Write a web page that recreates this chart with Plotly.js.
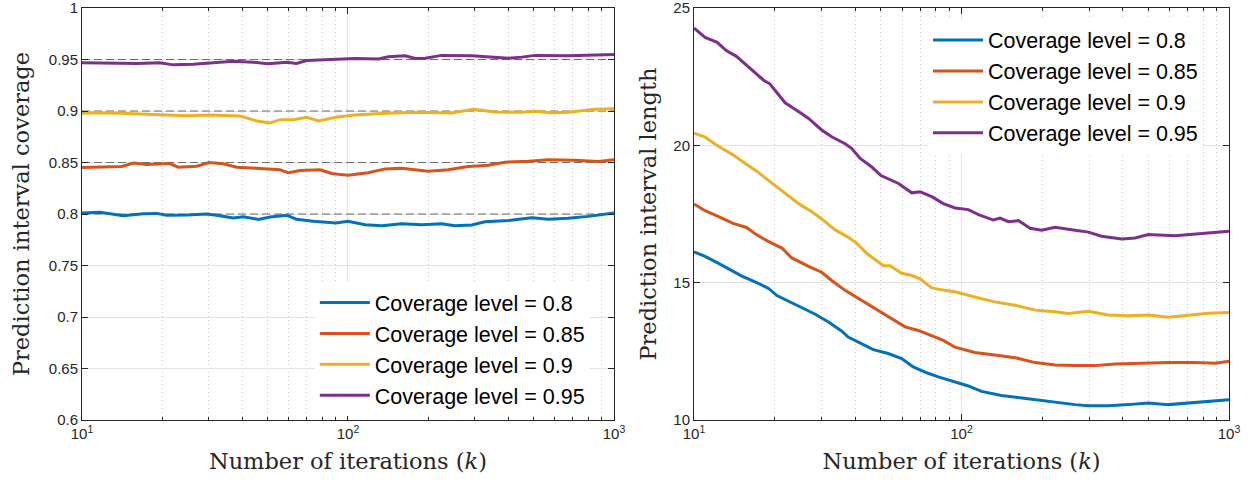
<!DOCTYPE html>
<html><head><meta charset="utf-8">
<script src="https://cdn.plot.ly/plotly-3.0.1.min.js"></script>
<style>html,body{margin:0;padding:0;background:#fff}</style>
</head><body><div id="chart" style="width:1250px;height:482px"></div>
<script>
// ---------- data ----------
const coverageLevels = [0.8, 0.85, 0.9, 0.95];
const seriesNames = ['Coverage level = 0.8', 'Coverage level = 0.85', 'Coverage level = 0.9', 'Coverage level = 0.95'];
const seriesColors = ['#0072BD', '#D95319', '#EDB120', '#7E2F8E'];

// Left panel: prediction interval coverage
const covX80 = [10, 11.7, 14.3, 17, 19.1, 20.8, 24.8, 29.4, 33, 37, 40.4, 46, 51, 59, 64, 74, 90, 100, 116, 134, 159, 189, 225, 252, 292, 327, 401, 491, 567, 673, 800, 1000];
const covY80 = [0.801, 0.8016, 0.7984, 0.8003, 0.8006, 0.7987, 0.799, 0.8, 0.7984, 0.7961, 0.7974, 0.7948, 0.7971, 0.7987, 0.7948, 0.7929, 0.7912, 0.7929, 0.7896, 0.7886, 0.7906, 0.7896, 0.7906, 0.7886, 0.7893, 0.7925, 0.7938, 0.7964, 0.7948, 0.7958, 0.7977, 0.801];
const covX85 = [10, 11.7, 14.1, 15.6, 17.5, 21.4, 23, 27, 30, 34, 38.2, 46.7, 55.5, 59.7, 66, 78.5, 86.9, 92, 100, 119, 138, 159, 200, 238, 283, 337, 389, 477, 567, 713, 873, 1000];
const covY85 = [0.8451, 0.8455, 0.8461, 0.8494, 0.8481, 0.849, 0.8455, 0.8464, 0.85, 0.8487, 0.8455, 0.8442, 0.8429, 0.84, 0.8422, 0.8429, 0.8393, 0.8385, 0.8377, 0.84, 0.8438, 0.8445, 0.8416, 0.8429, 0.8461, 0.8474, 0.8503, 0.8513, 0.8526, 0.8523, 0.851, 0.8526];
const covX90 = [10, 11, 13.9, 19.6, 24.8, 30.3, 39.3, 45.4, 50.8, 55.5, 62.2, 70, 77.5, 90, 106, 138, 184, 245, 296, 357, 450, 505, 583, 673, 849, 1000];
const covY90 = [0.8977, 0.8984, 0.8977, 0.8964, 0.8955, 0.8961, 0.8951, 0.8903, 0.8883, 0.8916, 0.8916, 0.8938, 0.8903, 0.894, 0.8961, 0.8977, 0.8987, 0.898, 0.9016, 0.899, 0.8987, 0.8997, 0.8984, 0.8987, 0.9016, 0.9023];
const covX95 = [10, 12.7, 16.1, 19.6, 22, 26.2, 30, 37, 44, 50, 59, 64, 70, 83, 93, 106, 130, 142, 164, 179, 195, 225, 292, 337, 401, 450, 505, 673, 849, 1000];
const covY95 = [0.9468, 0.9464, 0.9461, 0.9468, 0.9448, 0.9455, 0.9464, 0.9484, 0.9474, 0.9458, 0.9474, 0.9461, 0.949, 0.95, 0.9503, 0.951, 0.9506, 0.9526, 0.9536, 0.951, 0.9513, 0.954, 0.9536, 0.9526, 0.9513, 0.9523, 0.954, 0.9536, 0.9542, 0.9549];

// Right panel: prediction interval length
const lenX80 = [10, 11, 12.3, 13.8, 15.1, 16.9, 19, 20.4, 23.9, 28.4, 31.8, 35.6, 37.7, 42.4, 46.8, 53.2, 59.7, 66, 74.1, 81.9, 91.9, 106, 118.8, 141, 168, 199.5, 223.8, 265.7, 298, 354, 420.7, 499, 593, 705, 838, 1000];
const lenY80 = [16.12, 15.96, 15.71, 15.44, 15.24, 15.03, 14.79, 14.53, 14.21, 13.85, 13.57, 13.24, 13.02, 12.78, 12.56, 12.42, 12.24, 11.93, 11.72, 11.57, 11.43, 11.24, 11.04, 10.89, 10.8, 10.71, 10.64, 10.56, 10.52, 10.52, 10.56, 10.62, 10.56, 10.62, 10.68, 10.74];
const lenX85 = [10, 11, 12.3, 14, 15.7, 17.1, 18.7, 21.3, 23.2, 26.8, 30, 32.7, 36.7, 42.4, 50, 56.4, 61.5, 69, 77.4, 85.5, 94.6, 112, 133, 158.5, 188.4, 223.8, 265.7, 315.5, 374.7, 472, 593, 747, 887, 1000];
const lenY85 = [17.86, 17.62, 17.41, 17.16, 17.01, 16.75, 16.53, 16.26, 15.9, 15.59, 15.38, 15.08, 14.72, 14.35, 13.93, 13.63, 13.39, 13.26, 13.08, 12.9, 12.65, 12.46, 12.37, 12.27, 12.09, 12.0, 11.98, 11.98, 12.04, 12.07, 12.09, 12.09, 12.07, 12.14];
const lenX90 = [10, 11, 12, 13.1, 14, 15.7, 17.1, 18.7, 21.3, 24.9, 27.5, 30, 33.6, 37.7, 40.5, 44.2, 51, 54.1, 59.7, 65.2, 70, 77.4, 86.7, 94.6, 112, 133, 158.5, 188.4, 223.8, 250.6, 298, 354, 420.7, 499, 593, 705, 838, 1000];
const lenY90 = [20.44, 20.3, 20.04, 19.82, 19.65, 19.31, 19.07, 18.77, 18.34, 17.84, 17.59, 17.32, 16.93, 16.65, 16.44, 16.07, 15.62, 15.62, 15.34, 15.26, 15.14, 14.81, 14.72, 14.67, 14.48, 14.3, 14.18, 14.0, 13.94, 13.88, 13.96, 13.82, 13.8, 13.82, 13.74, 13.82, 13.89, 13.91];
const lenX95 = [10, 11, 12.2, 13.2, 14.4, 16.2, 18.2, 19.2, 21.9, 25.3, 26.8, 30, 32.7, 36.7, 38.9, 41.8, 46.2, 50, 54.8, 58.1, 65.2, 70, 77.4, 85.5, 94.6, 106, 115.7, 131.6, 139.3, 149.7, 163.2, 180.4, 199.5, 223.8, 265.7, 298, 334, 397, 445, 499, 628, 791, 1000];
const lenY95 = [24.27, 23.93, 23.75, 23.45, 23.24, 22.82, 22.37, 22.24, 21.55, 21.15, 20.98, 20.56, 20.31, 20.06, 19.88, 19.52, 19.21, 18.9, 18.71, 18.61, 18.27, 18.31, 18.13, 17.88, 17.72, 17.66, 17.48, 17.28, 17.35, 17.22, 17.26, 16.98, 16.91, 17.02, 16.91, 16.84, 16.69, 16.59, 16.63, 16.75, 16.71, 16.78, 16.87];

// Axis ticks
const xRange = [10, 1000];
const xTickVals = [10, 100, 1000];
const xTickText = ['10<sup>1</sup>', '10<sup>2</sup>', '10<sup>3</sup>'];
const xMinorVals = [20, 30, 40, 50, 60, 70, 80, 90, 200, 300, 400, 500, 600, 700, 800, 900];
const covTickVals = [0.6, 0.65, 0.7, 0.75, 0.8, 0.85, 0.9, 0.95, 1];
const covTickText = ['0.6', '0.65', '0.7', '0.75', '0.8', '0.85', '0.9', '0.95', '1'];
const lenTickVals = [10, 15, 20, 25];
const lenTickText = ['10', '15', '20', '25'];

// ---------- figure ----------
const covX = [covX80, covX85, covX90, covX95];
const covY = [covY80, covY85, covY90, covY95];
const lenX = [lenX80, lenX85, lenX90, lenX95];
const lenY = [lenY80, lenY85, lenY90, lenY95];

const traces = [];
// dashed target-coverage reference lines
coverageLevels.forEach(function (lv) {
  traces.push({
    x: xRange, y: [lv, lv], xaxis: 'x', yaxis: 'y', mode: 'lines',
    line: {color: '#6e6e6e', width: 1.2, dash: '8px,4px'},
    showlegend: false, hoverinfo: 'skip'
  });
});
for (let i = 0; i < 4; i++) {
  traces.push({
    x: covX[i], y: covY[i], xaxis: 'x', yaxis: 'y', mode: 'lines', name: seriesNames[i],
    line: {color: seriesColors[i], width: 3}, legend: 'legend'
  });
}
for (let i = 0; i < 4; i++) {
  traces.push({
    x: lenX[i], y: lenY[i], xaxis: 'x2', yaxis: 'y2', mode: 'lines', name: seriesNames[i],
    line: {color: seriesColors[i], width: 3}, legend: 'legend2'
  });
}

const axisCol = '#262626';
const tickFont = {family: 'Liberation Sans, Arial, sans-serif', size: 15, color: axisCol};
const titleFont = {family: 'DejaVu Serif, serif', size: 22.5, color: axisCol};

function xAxis(domain, anchor) {
  return {
    type: 'log', range: [1, 3], domain: domain, anchor: anchor,
    tickmode: 'array', tickvals: xTickVals, ticktext: xTickText,
    ticks: 'inside', ticklen: 6, tickcolor: axisCol, tickfont: tickFont, ticklabeloverflow: 'allow',
    showline: true, linecolor: axisCol, linewidth: 1, mirror: 'ticks',
    showgrid: true, gridcolor: '#e3e3e3', gridwidth: 1, zeroline: false,
    minor: {tickmode: 'array', tickvals: xMinorVals, ticks: 'inside', ticklen: 3, tickcolor: axisCol,
            showgrid: true, gridcolor: '#c9c9c9', griddash: '1px,3px', gridwidth: 1},
    title: {text: 'Number of iterations (<i>k</i>)', font: titleFont, standoff: 12}
  };
}
function yAxis(range, vals, text, anchor, title, standoff) {
  return {
    range: range, domain: [0, 1], anchor: anchor,
    tickmode: 'array', tickvals: vals, ticktext: text,
    ticks: 'inside', ticklen: 6, tickcolor: axisCol, tickfont: tickFont, ticklabeloverflow: 'allow',
    showline: true, linecolor: axisCol, linewidth: 1, mirror: 'ticks',
    showgrid: true, gridcolor: '#e3e3e3', gridwidth: 1, zeroline: false,
    title: {text: title, font: titleFont, standoff: standoff}
  };
}

const legendBase = {
  xanchor: 'left', yanchor: 'top', bgcolor: '#ffffff', borderwidth: 0,
  font: {family: 'Liberation Sans, Arial, sans-serif', size: 21.5, color: '#000000'},
  itemwidth: 50, traceorder: 'normal'
};

const layout = {
  width: 1250, height: 482,
  margin: {l: 82, r: 21, t: 8, b: 62, pad: 0},
  paper_bgcolor: '#ffffff', plot_bgcolor: '#ffffff',
  showlegend: true,
  xaxis: xAxis([0, 0.4638], 'y'),
  yaxis: yAxis([0.6, 1], covTickVals, covTickText, 'x', 'Prediction interval coverage', 12),
  xaxis2: xAxis([0.5336, 1], 'y2'),
  yaxis2: yAxis([10, 25], lenTickVals, lenTickText, 'x2', 'Prediction interval length', 10),
  legend: Object.assign({x: 0.203, y: 0.335}, legendBase),
  legend2: Object.assign({x: 0.7376, y: 0.972}, legendBase)
};

Plotly.newPlot('chart', traces, layout, {displayModeBar: false, staticPlot: true});
</script></body></html>
